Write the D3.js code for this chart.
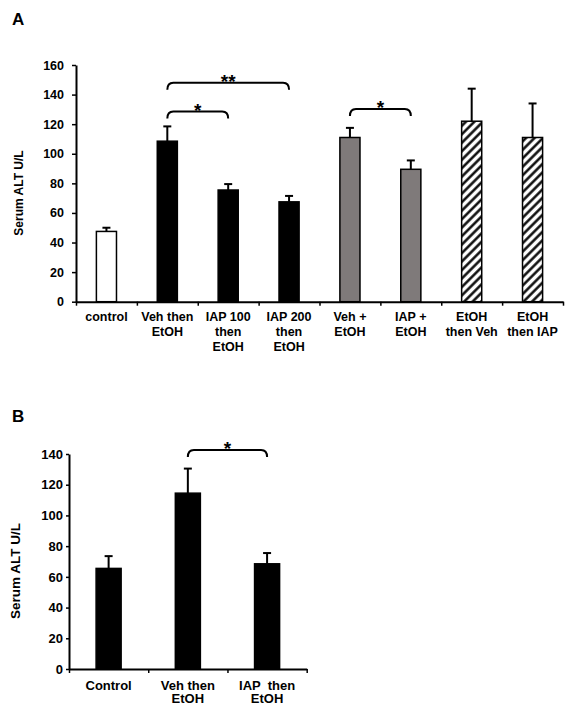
<!DOCTYPE html>
<html><head><meta charset="utf-8">
<script src="https://cdn.jsdelivr.net/npm/d3@7"></script>
<style>
body{margin:0;background:#fff;}
svg text{font-family:"Liberation Sans",Arial,sans-serif;font-weight:bold;fill:#000;white-space:pre;}
</style></head>
<body><svg id="c" width="574" height="714"></svg>
<script>
// ---- Panel A data ----
const catsA = ["control","Veh then\nEtOH","IAP 100\nthen\nEtOH","IAP 200\nthen\nEtOH","Veh +\nEtOH","IAP +\nEtOH","EtOH\nthen Veh","EtOH\nthen IAP"];
const valuesA = [47.5,108.5,75.5,67.5,111,89.5,122,111];
const errorsA = [2.5,10,4,4,6.5,6,22,23];
const fillsA = ["white","black","black","black","grey","grey","hatch","hatch"];
const ticksA = [0,20,40,60,80,100,120,140,160];
const bracketsA = [{from:1,to:3,y:148,label:"**"},{from:1,to:2,y:128.5,label:"*"},{from:4,to:5,y:130.3,label:"*"}];

// ---- Panel B data ----
const catsB = ["Control","Veh then\nEtOH","IAP  then\nEtOH"];
const valuesB = [65.5,114.5,68.5];
const errorsB = [8,16,7];
const ticksB = [0,20,40,60,80,100,120,140];
const bracketsB = [{from:1,to:2,y:142.6,label:"*"}];

const svg = d3.select("#c");
const defs = svg.append("defs");
const pat = defs.append("pattern").attr("id","hatch").attr("patternUnits","userSpaceOnUse")
  .attr("width",6).attr("height",6).attr("patternTransform","rotate(45)");
pat.append("rect").attr("width",6).attr("height",6).attr("fill","white");
pat.append("line").attr("x1",1.5).attr("y1",0).attr("x2",1.5).attr("y2",6).attr("stroke","black").attr("stroke-width",2.4);

const fillMap = {white:"#ffffff",black:"#000000",grey:"#7f7a7a",hatch:"url(#hatch)"};

function panel(opt){
  const g = svg.append("g");
  const n = opt.cats.length;
  const x = d3.scaleBand().domain(d3.range(n)).range([opt.x0,opt.x1])
    .paddingInner(opt.pad).paddingOuter(opt.pad/2);
  const xb = d3.scaleLinear().domain([0,n]).range([opt.x0,opt.x1]);
  const y = d3.scaleLinear().domain([0,opt.ymax]).range([opt.y0,opt.y1]);

  // y axis
  const ya = g.append("g").attr("transform",`translate(${opt.x0},0)`)
    .call(d3.axisLeft(y).tickValues(opt.ticks).tickSize(opt.tickLen).tickSizeOuter(0).tickPadding(opt.tickPad));
  ya.select(".domain").attr("stroke-width",2);
  ya.selectAll(".tick line").attr("stroke-width",1.5);
  ya.selectAll(".tick text").style("font-size",opt.tickFont+"px").attr("font-family",null);

  // bars
  g.selectAll("rect.bar").data(opt.values).join("rect").attr("class","bar")
    .attr("x",(d,i)=>x(i)).attr("width",x.bandwidth())
    .attr("y",d=>y(d)).attr("height",d=>y(0)-y(d))
    .attr("fill",(d,i)=>fillMap[opt.fills[i]]).attr("stroke","black").attr("stroke-width",1.5);

  // error bars
  const eg = g.append("g").attr("stroke","black").attr("stroke-width",2);
  opt.values.forEach((v,i)=>{
    const cx = x(i)+x.bandwidth()/2;
    eg.append("line").attr("x1",cx).attr("x2",cx).attr("y1",y(v)).attr("y2",y(v+opt.errors[i]));
    eg.append("line").attr("x1",cx-4).attr("x2",cx+4).attr("y1",y(v+opt.errors[i])).attr("y2",y(v+opt.errors[i]));
  });

  // x axis with boundary ticks
  const xa = g.append("g").attr("transform",`translate(0,${opt.y0})`)
    .call(d3.axisBottom(xb).tickValues(d3.range(n+1)).tickSize(4).tickSizeOuter(0).tickFormat(""));
  xa.select(".domain").attr("stroke-width",2);
  xa.selectAll(".tick line").attr("stroke-width",1.5);

  // x labels
  opt.cats.forEach((c,i)=>{
    const t = g.append("text").attr("text-anchor","middle").style("font-size",opt.labFont+"px")
      .attr("x",x(i)+x.bandwidth()/2).attr("y",opt.labY);
    c.split("\n").forEach((ln,j)=>{
      t.append("tspan").attr("x",x(i)+x.bandwidth()/2).attr("dy",j===0?0:opt.labLH).text(ln);
    });
  });

  // brackets
  opt.brackets.forEach(b=>{
    const x1 = x(b.from)+x.bandwidth()/2, x2 = x(b.to)+x.bandwidth()/2;
    const yt = y(b.y), ye = yt+7, r = 6;
    g.append("path").attr("fill","none").attr("stroke","black").attr("stroke-width",2)
      .attr("d",`M${x1},${ye} Q${x1},${yt} ${x1+r},${yt} L${x2-r},${yt} Q${x2},${yt} ${x2},${ye}`);
    g.append("text").attr("text-anchor","middle").style("font-size","19px")
      .attr("x",(x1+x2)/2).attr("y",yt+5).text(b.label);
  });

  // y title
  g.append("text").attr("text-anchor","middle").style("font-size",opt.titleFont+"px")
    .attr("transform",`translate(${opt.ytX},${opt.ytY}) rotate(-90)`).text("Serum ALT U/L");

  // panel letter
  g.append("text").style("font-size","17px").attr("x",12).attr("y",opt.letterY).text(opt.letter);
}

panel({cats:catsA,values:valuesA,errors:errorsA,fills:fillsA,ticks:ticksA,brackets:bracketsA,
  x0:76,x1:563,y0:301.7,y1:65,ymax:160,pad:0.67,tickLen:4,tickPad:8,tickFont:12.5,
  labFont:12.5,labY:321,labLH:15,titleFont:12,ytX:22.5,ytY:193,letter:"A",letterY:25});

panel({cats:catsB,values:valuesB,errors:errorsB,fills:["black","black","black"],ticks:ticksB,brackets:bracketsB,
  x0:69,x1:306.7,y0:669,y1:454,ymax:140,pad:0.684,tickLen:3,tickPad:3,tickFont:13,
  labFont:13,labY:689.5,labLH:13.5,titleFont:13.5,ytX:19.5,ytY:571,letter:"B",letterY:421.5});
</script></body></html>
